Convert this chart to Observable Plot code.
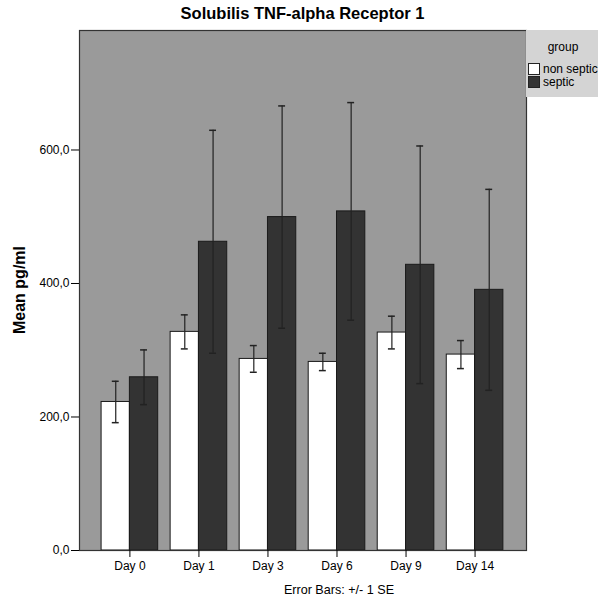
<!DOCTYPE html>
<html>
<head>
<meta charset="utf-8">
<script src="https://cdn.jsdelivr.net/npm/d3@7"></script>
<script src="https://cdn.jsdelivr.net/npm/@observablehq/plot@0.6"></script>
<style>
  html, body { margin: 0; padding: 0; background: #fff; }
  #wrap { position: relative; width: 598px; height: 600px; overflow: hidden; font-family: "Liberation Sans", Arial, sans-serif; }
  #wrap svg { position: absolute; left: 0; top: 0; }
  .title { position: absolute; left: 79px; width: 447px; top: 4px; text-align: center; font-weight: bold; font-size: 16.5px; color: #000; }
  .ylab { position: absolute; left: 20px; top: 290px; transform: translate(-50%, -50%) rotate(-90deg); font-weight: bold; font-size: 16px; white-space: nowrap; color: #000; }
  .foot { position: absolute; left: 339px; top: 590px; transform: translate(-50%, -50%); font-size: 12.6px; white-space: nowrap; color: #000; }
  .legend { position: absolute; left: 526px; top: 30px; width: 72px; height: 67px; background: #d4d4d4; overflow: hidden; font-size: 12px; color: #000; }
  .legend .lt { position: absolute; left: 0; width: 74px; top: 10px; text-align: center; }
  .legend .row { position: absolute; left: 2px; white-space: nowrap; display: flex; align-items: center; }
  .legend .sw { width: 10px; height: 10px; border: 1px solid #222; margin-right: 3px; }
</style>
</head>
<body>
<div id="wrap"></div>
<script>
const days = ["Day 0", "Day 1", "Day 3", "Day 6", "Day 9", "Day 14"];
const groups = ["non septic", "septic"];
const groupColors = ["#ffffff", "#333333"];
const nonSepticMean = [222.5, 327.5, 287, 282.5, 326.5, 293.5];
const nonSepticSE = [31, 25.5, 20, 13, 24.5, 21];
const septicMean = [259.5, 462.5, 499.5, 508, 428, 390.5];
const septicSE = [41, 167, 166.5, 163, 178, 150.5];
const yTicks = [0, 200, 400, 600];

// bar width as a fraction of the spacing between days, and half cap width
const barW = 0.41;
const capHalf = 0.05;

const data = [];
days.forEach((d, i) => {
  [[nonSepticMean, nonSepticSE], [septicMean, septicSE]].forEach(([m, s], g) => {
    const x1 = i - barW + g * barW;
    data.push({day: d, i, group: groups[g], mean: m[i], se: s[i],
               lo: m[i] - s[i], hi: m[i] + s[i], x1, x2: x1 + barW, xc: x1 + barW / 2});
  });
});

const chart = Plot.plot({
  width: 598,
  height: 600,
  marginLeft: 79,
  marginRight: 72,
  marginTop: 30,
  marginBottom: 50,
  style: {fontFamily: "Liberation Sans, Arial, sans-serif", fontSize: "12px", color: "#000", background: "transparent"},
  x: {type: "linear", domain: [-0.73, 5.745], axis: null},
  y: {domain: [0, 779], axis: null},
  color: {domain: groups, range: groupColors},
  marks: [
    Plot.frame({fill: "#9a9a9a"}),
    Plot.rectY(data, {x1: "x1", x2: "x2", y1: 0, y2: "mean", fill: "group", stroke: "#1a1a1a", strokeWidth: 1}),
    Plot.ruleX(data, {x: "xc", y1: "lo", y2: "hi", stroke: "#222", strokeWidth: 1.2}),
    Plot.ruleY(data, {y: "hi", x1: d => d.xc - capHalf, x2: d => d.xc + capHalf, stroke: "#222", strokeWidth: 1.5}),
    Plot.ruleY(data, {y: "lo", x1: d => d.xc - capHalf, x2: d => d.xc + capHalf, stroke: "#222", strokeWidth: 1.5}),
    Plot.frame({stroke: "#333", strokeWidth: 1.2}),
    Plot.axisY({ticks: yTicks, tickFormat: d => d.toFixed(1).replace(".", ","), tickSize: 8, tickPadding: 2, label: null, fontSize: 12, stroke: "#000"}),
    Plot.axisX({ticks: days.map((d, i) => i), tickFormat: i => days[i], tickSize: 7, tickPadding: 4, label: null, fontSize: 12, stroke: "#000"})
  ]
});

const wrap = document.getElementById("wrap");
wrap.appendChild(chart);

const title = document.createElement("div");
title.className = "title";
title.textContent = "Solubilis TNF-alpha Receptor 1";
wrap.appendChild(title);

const ylab = document.createElement("div");
ylab.className = "ylab";
ylab.textContent = "Mean pg/ml";
wrap.appendChild(ylab);

const foot = document.createElement("div");
foot.className = "foot";
foot.textContent = "Error Bars: +/- 1 SE";
wrap.appendChild(foot);

const color = chart.scale("color");
const legend = document.createElement("div");
legend.className = "legend";
const lt = document.createElement("div");
lt.className = "lt";
lt.textContent = "group";
legend.appendChild(lt);
color.domain.forEach((g, i) => {
  const row = document.createElement("div");
  row.className = "row";
  row.style.top = (32 + i * 13) + "px";
  const sw = document.createElement("div");
  sw.className = "sw";
  sw.style.background = color.range[i];
  row.appendChild(sw);
  const t = document.createElement("span");
  t.textContent = g;
  row.appendChild(t);
  legend.appendChild(row);
});
wrap.appendChild(legend);
</script>
</body>
</html>
